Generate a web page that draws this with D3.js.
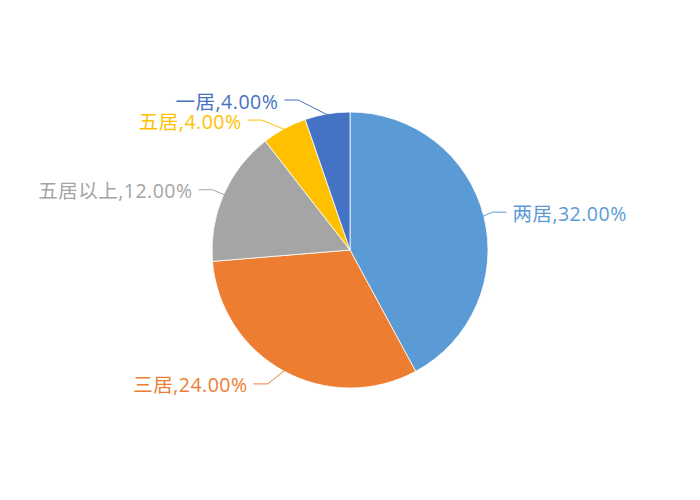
<!DOCTYPE html>
<html>
<head>
<meta charset="utf-8">
<script src="https://cdn.jsdelivr.net/npm/d3@7"></script>
<style>
  html, body { margin: 0; padding: 0; background: #fff; }
  svg { display: block; }
</style>
</head>
<body>
<svg id="chart" width="700" height="500"></svg>
<script>
// ---- data ----
const categories = ["两居", "三居", "五居以上", "五居", "一居"];
const values = [32, 24, 12, 4, 4];          // percent as labelled
const colors = ["#5B9BD5", "#ED7D31", "#A5A5A5", "#FFC000", "#4472C4"];

// ---- layout ----
const W = 700, H = 500;
const cx = 350, cy = 250, R = 138;
const elbowR = 150;
// small label nudges (dx, dy) applied to the leader-line elbow, as placed in the source
const labelNudge = [[-3, -1], [-11, 2], [0, 0], [-17, 2], [-27, -2]];
const hSeg = 14, textGap = 6;

const svg = d3.select("#chart");
const g = svg.append("g").attr("transform", `translate(${cx},${cy})`);

const data = categories.map((c, i) => ({ name: c, value: values[i], color: colors[i], i }));
const pie = d3.pie().value(d => d.value).sort(null);
const arcs = pie(data);
const arc = d3.arc().innerRadius(0).outerRadius(R);

g.selectAll("path.slice")
  .data(arcs)
  .join("path")
  .attr("class", "slice")
  .attr("d", arc)
  .attr("fill", d => d.data.color)
  .attr("stroke", "#fff")
  .attr("stroke-width", 0.8);

const polar = (r, a) => [r * Math.sin(a), -r * Math.cos(a)];

arcs.forEach(d => {
  const mid = (d.startAngle + d.endAngle) / 2;
  const p0 = polar(R - 1, mid);
  const e = polar(elbowR, mid);
  const nd = labelNudge[d.data.i];
  const p1 = [e[0] + nd[0], e[1] + nd[1]];
  const right = Math.sin(mid) >= 0;
  const p2 = [p1[0] + (right ? hSeg : -hSeg), p1[1]];
  g.append("polyline")
    .attr("points", [p0, p1, p2].map(p => p.join(",")).join(" "))
    .attr("fill", "none")
    .attr("stroke", d.data.color)
    .attr("stroke-width", 1);
  g.append("text")
    .attr("x", p2[0] + (right ? textGap : -textGap))
    .attr("y", p2[1] + 1)
    .attr("text-anchor", right ? "start" : "end")
    .attr("dominant-baseline", "central")
    .attr("fill", d.data.color)
    .style("font-family", "'Open Sans', 'Noto Sans CJK SC', sans-serif")
    .style("font-size", "19.5px")
    .style("letter-spacing", "0.5px")
    .text(`${d.data.name},${d.data.value.toFixed(2)}%`);
});
</script>
</body>
</html>
